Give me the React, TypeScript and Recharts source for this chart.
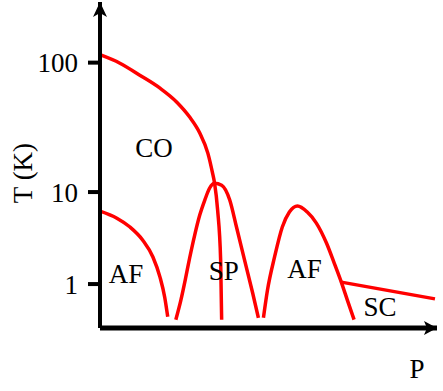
import { LineChart, Line, XAxis, YAxis, ReferenceDot } from 'recharts'

type Pt = { p: number; t: number }

// T axis ticks (K)
const yTicks = [1, 10, 100]

// the T axis of the drawing is schematic: decades below 10 K are shorter than the 10-100 decade
const tKnots = [0.333, 10, 100, 292]
const tKnotShare = [0, 0.417, 0.814, 1]

// phase boundaries, P in arbitrary units, T in K
const coBoundary: Pt[] = [
  { p: 0, t: 115 }, { p: 0.59, t: 99 }, { p: 1.18, t: 80 }, { p: 1.78, t: 63.5 },
  { p: 2.28, t: 49.5 }, { p: 2.66, t: 38 }, { p: 2.96, t: 28.6 }, { p: 3.2, t: 20 },
  { p: 3.34, t: 14 }, { p: 3.4, t: 11.7 }, { p: 3.49, t: 6.4 }, { p: 3.58, t: 1.82 },
  { p: 3.61, t: 0.41 },
]

const afLeft: Pt[] = [
  { p: 0, t: 6.2 }, { p: 0.5, t: 5.2 }, { p: 0.89, t: 4.17 }, { p: 1.27, t: 3.0 },
  { p: 1.57, t: 1.97 }, { p: 1.78, t: 1.19 }, { p: 1.92, t: 0.72 }, { p: 2.01, t: 0.44 },
]

const spDome: Pt[] = [
  { p: 2.25, t: 0.41 }, { p: 2.4, t: 0.67 }, { p: 2.54, t: 1.16 }, { p: 2.66, t: 1.92 },
  { p: 2.81, t: 3.41 }, { p: 2.96, t: 5.62 }, { p: 3.11, t: 8.19 }, { p: 3.25, t: 10.7 },
  { p: 3.4, t: 11.7 }, { p: 3.61, t: 11.3 }, { p: 3.85, t: 8.2 }, { p: 4.05, t: 4.17 },
  { p: 4.29, t: 1.82 }, { p: 4.53, t: 0.8 }, { p: 4.7, t: 0.43 },
]

const afRight: Pt[] = [
  { p: 4.85, t: 0.43 }, { p: 4.97, t: 0.86 }, { p: 5.18, t: 1.97 }, { p: 5.41, t: 4.17 },
  { p: 5.62, t: 6.06 }, { p: 5.86, t: 7.05 }, { p: 6.15, t: 6.06 }, { p: 6.42, t: 4.6 },
  { p: 6.72, t: 2.79 }, { p: 6.95, t: 1.69 }, { p: 7.16, t: 1.05 }, { p: 7.34, t: 0.67 },
  { p: 7.54, t: 0.41 },
]

const scBoundary: Pt[] = [{ p: 7.16, t: 1.05 }, { p: 9.94, t: 0.69 }]

const regionLabels = [
  { text: 'CO', p: 1.6, t: 21.9 },
  { text: 'AF', p: 0.77, t: 1.28 },
  { text: 'SP', p: 3.67, t: 1.38 },
  { text: 'AF', p: 6.07, t: 1.46 },
  { text: 'SC', p: 8.31, t: 0.56 },
]

const boundaries = [coBoundary, afLeft, spDome, afRight, scBoundary]

const FONT = '"Liberation Serif", "Times New Roman", serif'
const RED = '#ff0000'

function schematicLogScale(): any {
  let dom: number[] = [tKnots[0], tKnots[tKnots.length - 1]]
  let rng: number[] = [0, 1]
  const lk = tKnots.map((v) => Math.log10(v))
  const scale: any = (v: number) => {
    const l = Math.log10(v)
    let i = 0
    while (i < lk.length - 2 && l > lk[i + 1]) i++
    const s =
      tKnotShare[i] + ((l - lk[i]) / (lk[i + 1] - lk[i])) * (tKnotShare[i + 1] - tKnotShare[i])
    return rng[0] + s * (rng[1] - rng[0])
  }
  scale.domain = (d?: number[]) => {
    if (d === undefined) return dom
    dom = d
    return scale
  }
  scale.range = (r?: number[]) => {
    if (r === undefined) return rng
    rng = r
    return scale
  }
  scale.copy = () => schematicLogScale().domain(dom).range(rng)
  scale.ticks = () => yTicks
  return scale
}

const tScale = schematicLogScale()

export default function App() {
  return (
    <div style={{ position: 'absolute', left: 0, top: 0, background: '#fff' }}>
      <LineChart width={443} height={391} margin={{ top: 2, right: 6, bottom: 0, left: 0 }}>
        <XAxis
          type="number"
          dataKey="p"
          domain={[0, 10]}
          tick={false}
          tickLine={false}
          height={63}
          axisLine={{ stroke: '#000', strokeWidth: 5 }}
          label={{
            content: (props: any) => {
              const vb = props.viewBox
              const end = vb.x + vb.width
              const y = vb.y
              return (
                <g>
                  <polygon
                    points={`${end},${y} ${end - 13},${y - 7} ${end - 10},${y} ${end - 13},${y + 7}`}
                    fill="#000"
                  />
                  <text x={end - 20} y={y + 50} textAnchor="middle" fontSize={27} fontFamily={FONT} fill="#000">
                    P
                  </text>
                </g>
              )
            },
          }}
        />
        <YAxis
          type="number"
          dataKey="t"
          scale={tScale}
          domain={[tKnots[0], tKnots[tKnots.length - 1]]}
          ticks={yTicks}
          width={100}
          tickSize={12}
          tickMargin={10}
          tick={{ fill: '#000', fontSize: 27, fontFamily: FONT }}
          tickLine={{ stroke: '#000', strokeWidth: 4 }}
          axisLine={{ stroke: '#000', strokeWidth: 4 }}
          label={{
            content: (props: any) => {
              const vb = props.viewBox
              const x = vb.x + vb.width
              const top = vb.y
              return (
                <g>
                  <polygon
                    points={`${x},${top} ${x - 7},${top + 15} ${x},${top + 11} ${x + 7},${top + 15}`}
                    fill="#000"
                  />
                  <text
                    x={23}
                    y={173}
                    transform="rotate(-90 23 173)"
                    textAnchor="middle"
                    dominantBaseline="central"
                    fontSize={27}
                    fontFamily={FONT}
                    fill="#000"
                  >
                    T (K)
                  </text>
                </g>
              )
            },
          }}
        />
        {boundaries.map((d, i) => (
          <Line
            key={i}
            data={d}
            dataKey="t"
            type="monotone"
            stroke={RED}
            strokeWidth={3.5}
            dot={false}
            activeDot={false}
            isAnimationActive={false}
          />
        ))}
        {regionLabels.map((r, i) => (
          <ReferenceDot
            key={i}
            x={r.p}
            y={r.t}
            r={1}
            shape={(props: any) => (
              <text
                x={props.cx}
                y={props.cy}
                dy="0.33em"
                textAnchor="middle"
                fontSize={27}
                fontFamily={FONT}
                fill="#000"
              >
                {r.text}
              </text>
            )}
          />
        ))}
      </LineChart>
    </div>
  )
}
